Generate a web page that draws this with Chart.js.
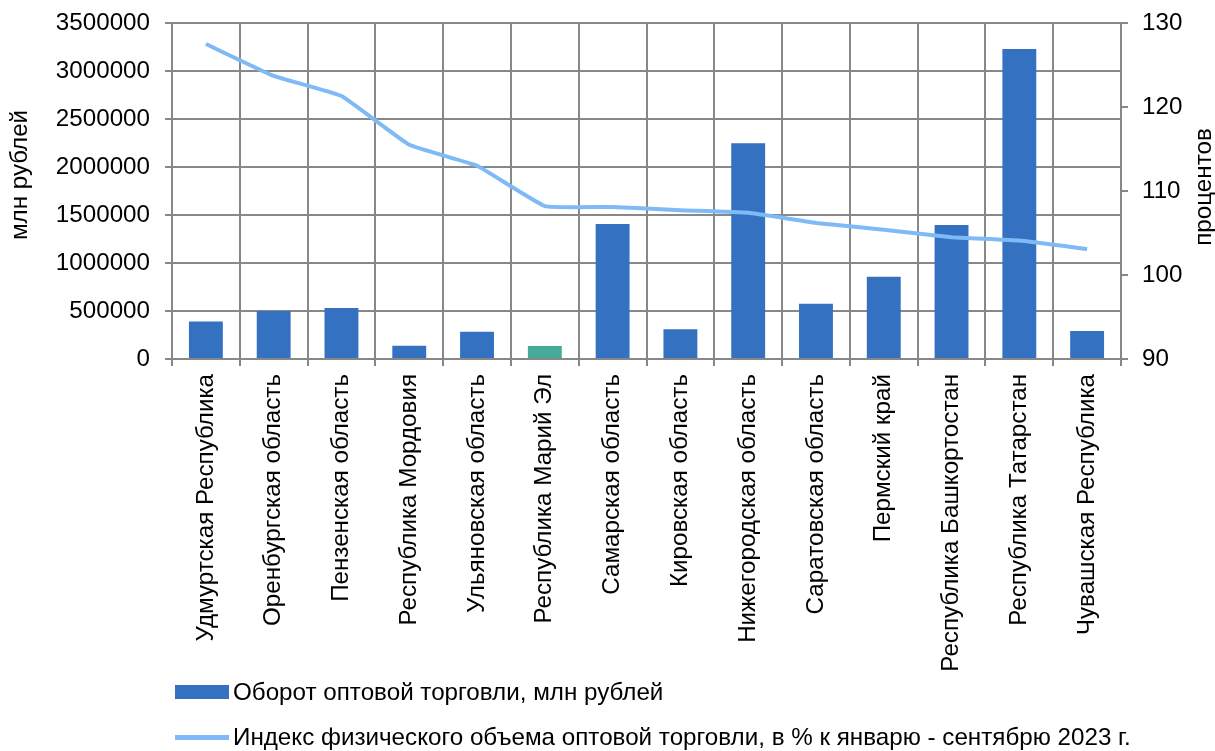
<!DOCTYPE html>
<html>
<head>
<meta charset="utf-8">
<script src="https://cdn.jsdelivr.net/npm/chart.js@4/dist/chart.umd.min.js"></script>
<style>
    html, body { margin: 0; padding: 0; background: #fff; }
    #wrap { position: relative; width: 1215px; height: 751px; }
    #chart { position: absolute; left: 0; top: 0; }
    .legend-row {
        position: absolute; left: 175px; height: 30px;
        display: flex; align-items: center;
        font-family: "Liberation Sans", Arial, sans-serif; font-size: 24.2px; color: #000;
        white-space: nowrap;
    }
    .legend-row .mark { width: 54px; margin-right: 4px; }
</style>
</head>
<body>
<div id="wrap">
    <canvas id="chart" width="1215" height="751"></canvas>
    <div class="legend-row" style="top:677px;"><span class="mark" style="height:14px;background:#3571c1;"></span>Оборот оптовой торговли, млн рублей</div>
    <div class="legend-row" style="top:722px;"><span class="mark" style="height:5px;background:#7fbaf7;"></span>Индекс физического объема оптовой торговли, в % к январю - сентябрю 2023 г.</div>
</div>
<script>
// --- Data ---
const regions = [
    'Удмуртская Республика', 'Оренбургская область', 'Пензенская область',
    'Республика Мордовия', 'Ульяновская область', 'Республика Марий Эл',
    'Самарская область', 'Кировская область', 'Нижегородская область',
    'Саратовская область', 'Пермский край', 'Республика Башкортостан',
    'Республика Татарстан', 'Чувашская Республика'
];
const turnover = [390000, 500000, 530000, 138000, 285000, 135000, 1405000, 310000, 2247000, 575000, 857000, 1396000, 3229000, 292000];
const volumeIndex = [127.5, 123.7, 121.3, 115.5, 113.0, 108.2, 108.1, 107.7, 107.4, 106.2, 105.4, 104.5, 104.1, 103.1];
const leftTicks = [0, 500000, 1000000, 1500000, 2000000, 2500000, 3000000, 3500000];
const rightTicks = [90, 100, 110, 120, 130];
const highlighted = 'Республика Марий Эл';

const FONT = '"Liberation Sans", Arial, sans-serif';
const FSIZE = 24.2;
const GRID = '#888888';

// axis titles, both read bottom-to-top
const axisTitles = {
    id: 'axisTitles',
    afterDraw(chart) {
        const ctx = chart.ctx;
        ctx.save();
        ctx.font = FSIZE + 'px ' + FONT;
        ctx.fillStyle = '#000';
        ctx.textAlign = 'center';
        ctx.textBaseline = 'middle';
        [['млн рублей', 20, 175], ['процентов', 1204, 187]].forEach(([t, x, y]) => {
            ctx.save();
            ctx.translate(x, y);
            ctx.rotate(-Math.PI / 2);
            ctx.fillText(t, 0, 0);
            ctx.restore();
        });
        ctx.restore();
    }
};

// fixed box sizes so the plot area lands where the reference has it
function fitVertical(width) {
    return (s) => { s.width = width; s.paddingTop = 4; s.paddingBottom = 4; };
}

new Chart(document.getElementById('chart'), {
    data: {
        labels: regions,
        datasets: [{
            type: 'line',
            label: 'Индекс физического объема оптовой торговли, в % к январю - сентябрю 2023 г.',
            data: volumeIndex,
            yAxisID: 'y1',
            borderColor: '#7fbaf7',
            borderWidth: 4,
            pointRadius: 0,
            tension: 0.1,
            order: 0
        }, {
            type: 'bar',
            label: 'Оборот оптовой торговли, млн рублей',
            data: turnover,
            yAxisID: 'y',
            backgroundColor: (c) => regions[c.dataIndex] === highlighted ? '#46aa99' : '#3571c1',
            barPercentage: 0.5,
            categoryPercentage: 1,
            order: 1
        }]
    },
    options: {
        responsive: false,
        animation: false,
        layout: { padding: { top: 23, left: 0, right: 0, bottom: 80 } },
        plugins: { legend: { display: false }, tooltip: { enabled: false } },
        scales: {
            x: {
                offset: true,
                grid: { offset: true, color: GRID, lineWidth: 2, tickLength: 7 },
                border: { color: GRID, width: 2 },
                ticks: { color: '#000', font: { family: FONT, size: FSIZE }, minRotation: 90, maxRotation: 90, padding: 8, autoSkip: false },
                afterFit: (s) => { s.height = 312; }
            },
            y: {
                position: 'left',
                min: 0, max: 3500000,
                afterBuildTicks: (s) => { s.ticks = leftTicks.map(v => ({ value: v })); },
                grid: { color: GRID, lineWidth: 2, tickLength: 7 },
                border: { color: GRID, width: 2 },
                ticks: { color: '#000', font: { family: FONT, size: FSIZE }, padding: 15, callback: (v) => String(v) },
                afterFit: fitVertical(172)
            },
            y1: {
                position: 'right',
                min: 90, max: 130,
                afterBuildTicks: (s) => { s.ticks = rightTicks.map(v => ({ value: v })); },
                grid: { drawOnChartArea: false, color: GRID, lineWidth: 2, tickLength: 7 },
                border: { color: GRID, width: 2 },
                ticks: { color: '#000', font: { family: FONT, size: FSIZE }, padding: 14 },
                afterFit: fitVertical(94)
            }
        }
    },
    plugins: [axisTitles]
});
</script>
</body>
</html>
